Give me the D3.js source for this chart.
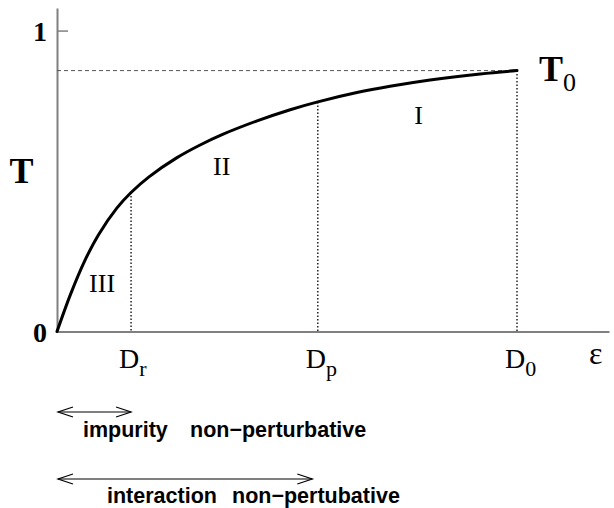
<!DOCTYPE html>
<html>
<head>
<meta charset="utf-8">
<script src="https://cdn.jsdelivr.net/npm/d3@7"></script>
<style>
  html, body { margin: 0; padding: 0; background: #fff; }
  svg { display: block; }
  .serif { font-family: "Liberation Serif", "DejaVu Serif", serif; }
  .sans { font-family: "Liberation Sans", Arial, sans-serif; font-weight: bold; }
</style>
</head>
<body>
<svg id="chart" width="614" height="508"></svg>
<script>
// Transmission T as a function of disorder strength ε
const curveEps = [0, 0.03, 0.06, 0.09, 0.13, 0.161, 0.20, 0.26, 0.31, 0.36, 0.435, 0.507, 0.567, 0.652, 0.724, 0.811, 0.92, 1.0];
const curveT   = [0, 0.126, 0.234, 0.321, 0.410, 0.462, 0.514, 0.577, 0.619, 0.655, 0.700, 0.737, 0.763, 0.794, 0.815, 0.836, 0.856, 0.867];

// Crossover scales on the ε axis
const scaleNames = ["D", "D", "D"];
const scaleSubs  = ["r", "p", "0"];
const scaleEps   = [0.161, 0.567, 1.0];

// Regimes between the crossovers
const regionNames = ["III", "II", "I"];
const regionEps   = [0.098, 0.358, 0.786];
const regionT     = [0.13, 0.52, 0.69];

const T0 = 0.867;
const yTicks = [0, 1];

// Ranges spanned by each non-perturbative regime (in ε)
const rangeLabels = [["impurity", "non−perturbative"], ["interaction", "non−pertubative"]];
const rangeEnd    = [0.161, 0.555];

const svg = d3.select("#chart");
const x = d3.scaleLinear().domain([0, 1.2]).range([57, 609]);
const y = d3.scaleLinear().domain([0, 1.075]).range([331.5, 8]);

// Axes
const yAxis = d3.axisLeft(y).tickValues(yTicks).tickSize(-11).tickSizeOuter(0).tickPadding(10).tickFormat(d3.format("d"));
const gy = svg.append("g").attr("transform", `translate(${x(0)},0)`).call(yAxis);
gy.select(".domain").attr("stroke", "#808080").attr("stroke-width", 2);
gy.selectAll(".tick line").attr("stroke", "#808080").attr("stroke-width", 1.5);
gy.selectAll(".tick text")
  .attr("class", "serif")
  .attr("font-size", 28).attr("font-weight", "bold").attr("fill", "#000")
  .attr("dy", "0.35em");

const xAxis = d3.axisBottom(x).tickValues([]).tickSizeOuter(0);
const gx = svg.append("g").attr("transform", `translate(0,${y(0)})`).call(xAxis);
gx.select(".domain").attr("stroke", "#808080").attr("stroke-width", 2);

// Dashed level of T0
svg.append("line")
  .attr("x1", x(0)).attr("x2", x(1.0)).attr("y1", y(T0)).attr("y2", y(T0))
  .attr("stroke", "#555").attr("stroke-width", 1).attr("stroke-dasharray", "4,3");

// Dotted verticals at the crossover scales
const pts = curveEps.map((e, i) => [e, curveT[i]]);
const line = d3.line().x(d => x(d[0])).y(d => y(d[1])).curve(d3.curveCatmullRom.alpha(0.5));
const tAt = e => {
  for (let i = 1; i < pts.length; i++) {
    if (e <= pts[i][0]) {
      const f = (e - pts[i-1][0]) / (pts[i][0] - pts[i-1][0]);
      return pts[i-1][1] + f * (pts[i][1] - pts[i-1][1]);
    }
  }
  return pts[pts.length-1][1];
};
svg.selectAll("line.cross").data(scaleEps).join("line")
  .attr("class", "cross")
  .attr("x1", d => x(d)).attr("x2", d => x(d))
  .attr("y1", d => y(tAt(d))).attr("y2", y(0))
  .attr("stroke", "#000").attr("stroke-width", 1.3).attr("stroke-dasharray", "1.5,2");

// Transmission curve
svg.append("path").datum(pts)
  .attr("d", line).attr("fill", "none")
  .attr("stroke", "#000").attr("stroke-width", 3).attr("stroke-linecap", "round");

// Axis titles
svg.append("text").attr("class", "serif")
  .attr("x", 21.5).attr("y", 183).attr("text-anchor", "middle")
  .attr("font-size", 36).attr("font-weight", "bold").text("T");

const t0 = svg.append("text").attr("class", "serif")
  .attr("x", x(1.0) + 22).attr("y", y(T0) + 10).attr("font-size", 36).attr("font-weight", "bold");
t0.append("tspan").text("T");
t0.append("tspan").attr("font-weight", "normal").attr("font-size", 26).attr("dy", 10).text("0");

svg.append("text").attr("class", "serif")
  .attr("x", 589).attr("y", 364).attr("font-size", 32).text("ε");

// Crossover labels
scaleEps.forEach((e, i) => {
  const t = svg.append("text").attr("class", "serif")
    .attr("x", x(e) - 12).attr("y", 368).attr("font-size", 28);
  t.append("tspan").text(scaleNames[i]);
  t.append("tspan").attr("font-size", 22).attr("dy", 8).text(scaleSubs[i]);
});

// Regime labels
svg.selectAll("text.region").data(regionNames).join("text")
  .attr("class", "region serif")
  .attr("x", (d, i) => x(regionEps[i])).attr("y", (d, i) => y(regionT[i]))
  .attr("text-anchor", "middle").attr("font-size", 26).text(d => d);

// Double arrows marking the non-perturbative ranges
const arrowY = [412, 479];
const textY  = [437, 503];
const textX  = [[83, 190], [107, 232]];
rangeEnd.forEach((e, i) => {
  const x0 = x(0) + 1, x1 = x(e), yy = arrowY[i];
  const g = svg.append("g").attr("stroke", "#000").attr("stroke-width", 1.2).attr("fill", "none");
  g.append("line").attr("x1", x0).attr("x2", x1).attr("y1", yy).attr("y2", yy);
  g.append("path").attr("d", `M${x0 + 15},${yy - 5}L${x0},${yy}L${x0 + 15},${yy + 5}`);
  g.append("path").attr("d", `M${x1 - 15},${yy - 5}L${x1},${yy}L${x1 - 15},${yy + 5}`);
  rangeLabels[i].forEach((w, j) => {
    svg.append("text").attr("class", "sans")
      .attr("x", textX[i][j]).attr("y", textY[i]).attr("font-size", 21.5).text(w);
  });
});
</script>
</body>
</html>
